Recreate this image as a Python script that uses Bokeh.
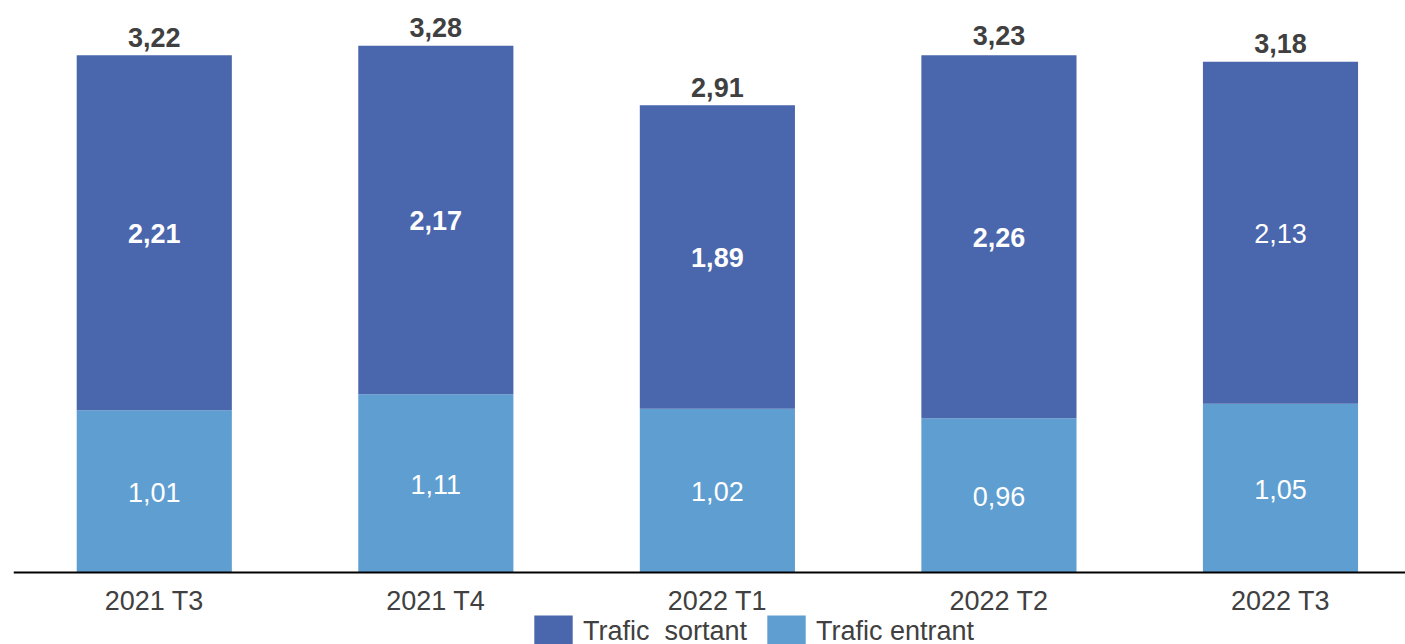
from bokeh.plotting import figure
from bokeh.models import Range1d, Legend, LegendItem, ColumnDataSource, Span
from bokeh.core.properties import value
from bokeh.embed import file_html
from bokeh.resources import INLINE

categories = ["2021 T3", "2021 T4", "2022 T1", "2022 T2", "2022 T3"]
entrant = [1.01, 1.11, 1.02, 0.96, 1.05]
sortant = [2.21, 2.17, 1.89, 2.26, 2.13]
totals = [3.22, 3.28, 2.91, 3.23, 3.18]
sortant_bold = [True, True, True, True, False]

def fmt(v):
    return f"{v:.2f}".replace(".", ",")

x = list(range(len(categories)))
C_SORT = "#4A66AC"
C_ENT = "#5F9ED1"
FONT = "Liberation Sans"
FS = "27px"

p = figure(width=1405, height=644, output_backend="svg", toolbar_location=None,
           x_range=Range1d(-0.5, 4.444), y_range=Range1d(-0.4483, 3.5616),
           min_border_left=13, min_border_right=0, min_border_top=0, min_border_bottom=0)
p.outline_line_color = None
p.xgrid.visible = False
p.ygrid.visible = False
p.xaxis.visible = False
p.yaxis.visible = False

top_s = [e + s for e, s in zip(entrant, sortant)]
r_ent = p.vbar(x=x, bottom=0, top=entrant, width=0.551, color=C_ENT, line_color=None)
r_sort = p.vbar(x=x, bottom=entrant, top=top_s, width=0.551, color=C_SORT, line_color=None)

# baseline (category axis line)
p.add_layout(Span(location=0, dimension="width", line_color="black", line_width=2))

# category labels under the baseline
cat_src = ColumnDataSource(dict(x=x, y=[0] * len(x), t=categories))
p.text(x="x", y="y", text="t", source=cat_src, text_color="#404040", text_font=value(FONT),
       text_font_size=FS, text_align="center", text_baseline="middle", y_offset=28)

# value labels
ent_src = ColumnDataSource(dict(x=x, y=[e / 2 for e in entrant], t=[fmt(v) for v in entrant]))
p.text(x="x", y="y", text="t", source=ent_src, text_color="white", text_font=value(FONT),
       text_font_size=FS, text_align="center", text_baseline="middle", y_offset=1)

for bold_flag in (True, False):
    idx = [i for i in x if sortant_bold[i] == bold_flag]
    src = ColumnDataSource(dict(x=[x[i] for i in idx],
                                y=[entrant[i] + sortant[i] / 2 for i in idx],
                                t=[fmt(sortant[i]) for i in idx]))
    p.text(x="x", y="y", text="t", source=src, text_color="white", text_font=value(FONT),
           text_font_size=FS, text_align="center", text_baseline="middle", y_offset=1,
           text_font_style="bold" if bold_flag else "normal")

tot_src = ColumnDataSource(dict(x=x, y=totals, t=[fmt(v) for v in totals]))
p.text(x="x", y="y", text="t", source=tot_src, text_color="#404040", text_font=value(FONT),
       text_font_size=FS, text_align="center", text_baseline="middle",
       text_font_style="bold", y_offset=-18)

legend = Legend(items=[LegendItem(label="Trafic  sortant", renderers=[r_sort]),
                       LegendItem(label="Trafic entrant", renderers=[r_ent])],
                orientation="horizontal", location=(516, -7),
                glyph_width=48, glyph_height=40, label_height=40, label_standoff=6,
                spacing=15, padding=0, margin=0,
                label_text_font=FONT, label_text_font_size=FS, label_text_color="#404040",
                border_line_color=None, background_fill_alpha=0)
p.add_layout(legend, "center")

open("out.html", "w").write(file_html(p, INLINE))
